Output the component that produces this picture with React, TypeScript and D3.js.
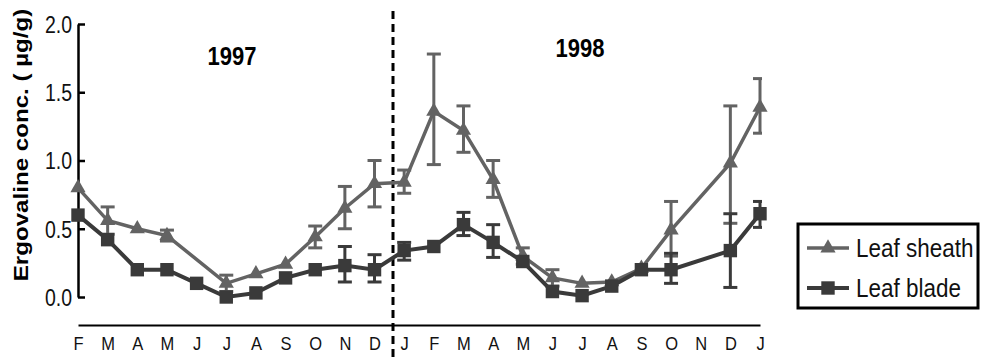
import React, { useRef, useEffect } from "react";
import * as d3 from "d3";

// months from Feb 1997 to Jan 1999
const months = ["F", "M", "A", "M", "J", "J", "A", "S", "O", "N", "D", "J", "F", "M", "A", "M", "J", "J", "A", "S", "O", "N", "D", "J"];

// leaf sheath (triangles), null = no sample
const sheath = [0.8, 0.56, 0.5, 0.45, null, 0.1, 0.17, 0.24, 0.44, 0.65, 0.83, 0.84, 1.36, 1.22, 0.86, 0.3, 0.14, 0.1, 0.11, 0.21, 0.49, null, 0.98, 1.39];
const sheathLo = [null, 0.46, null, 0.41, null, 0.04, null, null, 0.36, 0.5, 0.66, 0.76, 0.97, 1.06, 0.73, 0.24, 0.08, null, null, null, 0.3, null, 0.54, 1.2];
const sheathHi = [null, 0.66, null, 0.49, null, 0.16, null, null, 0.52, 0.81, 1.0, 0.93, 1.78, 1.4, 1.0, 0.36, 0.2, null, null, null, 0.7, null, 1.4, 1.6];

// leaf blade (squares)
const blade = [0.6, 0.42, 0.2, 0.2, 0.1, 0.0, 0.03, 0.14, 0.2, 0.23, 0.2, 0.34, 0.37, 0.53, 0.4, 0.26, 0.04, 0.01, 0.08, 0.2, 0.2, null, 0.34, 0.61];
const bladeLo = [null, null, null, null, null, null, null, null, null, 0.11, 0.11, 0.27, null, 0.45, 0.29, null, null, null, null, null, 0.1, null, 0.07, 0.51];
const bladeHi = [null, null, null, null, null, null, null, null, null, 0.37, 0.31, 0.4, null, 0.62, 0.53, null, null, null, null, null, 0.32, null, 0.61, 0.7];

const yTicks = [0, 0.5, 1.0, 1.5, 2.0];

const FONT = "'Liberation Sans', Arial, sans-serif";

export default function App() {
  const ref = useRef<SVGSVGElement>(null);

  useEffect(() => {
    const svg = d3.select(ref.current).html("");
    svg.style("font-family", FONT);

    const x = d3.scalePoint<number>().domain(d3.range(months.length)).range([78, 760]);
    const y = d3.scaleLinear().domain([0, 2]).range([297, 24]);

    // dashed separator between years
    svg.append("line")
      .attr("x1", 393).attr("x2", 393)
      .attr("y1", 11).attr("y2", 359)
      .attr("stroke", "#000").attr("stroke-width", 3)
      .attr("stroke-dasharray", "8,5");

    // y axis, ticks pointing inward
    const yAxis = svg.append("g")
      .attr("transform", "translate(78,0)")
      .call(d3.axisLeft(y).tickValues(yTicks).tickFormat(d3.format(".1f")).tickSize(-7).tickSizeOuter(0).tickPadding(6));
    yAxis.select(".domain").attr("stroke-width", 2.5);
    yAxis.selectAll(".tick line").attr("stroke-width", 2.5);
    yAxis.selectAll("text")
      .attr("font-size", 19.5).attr("font-family", FONT).attr("fill", "#111")
      .attr("dy", "0.36em").attr("transform", "scale(1,1.18)");

    // x axis (no ticks)
    const xAxis = svg.append("g")
      .attr("transform", "translate(0,325)")
      .call(d3.axisBottom(x).tickFormat((d) => months[d as number]).tickSize(0).tickSizeOuter(0));
    xAxis.select(".domain").attr("stroke-width", 2);
    xAxis.selectAll("text")
      .attr("font-size", 16.5).attr("font-family", FONT).attr("fill", "#111")
      .attr("y", 0).attr("dy", 0)
      .attr("transform", "translate(0,25) scale(1,1.15)");

    // year titles
    svg.append("text").attr("text-anchor", "middle")
      .attr("transform", "translate(232,65) scale(1,1.16)")
      .attr("font-size", 22).attr("font-weight", "bold").text("1997");
    svg.append("text").attr("text-anchor", "middle")
      .attr("transform", "translate(580,57) scale(1,1.16)")
      .attr("font-size", 22).attr("font-weight", "bold").text("1998");

    // y label
    svg.append("text")
      .attr("transform", "translate(28,145) rotate(-90) scale(1.15,1)")
      .attr("text-anchor", "middle")
      .attr("font-size", 21).attr("font-weight", "bold")
      .text("Ergovaline conc. ( µg/g)");

    // clip for error bars at right end
    svg.append("clipPath").attr("id", "errclip")
      .append("rect").attr("x", 0).attr("y", 0).attr("width", 762).attr("height", 359);

    const series = [
      { name: "Leaf sheath", vals: sheath, lo: sheathLo, hi: sheathHi, color: "#636363", sym: d3.symbolTriangle, size: 100, lw: 3.5 },
      { name: "Leaf blade", vals: blade, lo: bladeLo, hi: bladeHi, color: "#3a3a3a", sym: d3.symbolSquare, size: 180, lw: 4 },
    ];

    const drawSeries = (s: typeof series[0]) => {
      const pts = s.vals.map((v, i) => ({ i, v })).filter((p) => p.v !== null) as { i: number; v: number }[];
      const g = svg.append("g");

      // error bars
      const eb = g.append("g").attr("clip-path", "url(#errclip)");
      s.vals.forEach((v, i) => {
        if (s.lo[i] == null || s.hi[i] == null) return;
        const cx = x(i)!;
        eb.append("line").attr("x1", cx).attr("x2", cx)
          .attr("y1", y(s.lo[i] as number)).attr("y2", y(s.hi[i] as number))
          .attr("stroke", s.color).attr("stroke-width", 3);
        [s.lo[i], s.hi[i]].forEach((e) => {
          eb.append("line").attr("x1", cx - 7).attr("x2", cx + 7)
            .attr("y1", y(e as number)).attr("y2", y(e as number))
            .attr("stroke", s.color).attr("stroke-width", 3);
        });
      });

      const line = d3.line<{ i: number; v: number }>().x((d) => x(d.i)!).y((d) => y(d.v));
      g.append("path").datum(pts).attr("fill", "none")
        .attr("stroke", s.color).attr("stroke-width", s.lw).attr("d", line);

      g.selectAll(".mark").data(pts).enter().append("path")
        .attr("transform", (d) => `translate(${x(d.i)},${y(d.v)})`)
        .attr("d", d3.symbol().type(s.sym).size(s.size)())
        .attr("fill", s.color);
    };

    series.forEach((s) => drawSeries(s));

    // legend
    const lg = svg.append("g");
    lg.append("rect").attr("x", 798).attr("y", 224).attr("width", 180).attr("height", 84)
      .attr("fill", "#fff").attr("stroke", "#000").attr("stroke-width", 3);
    series.forEach((s, k) => {
      const ly = 248 + k * 40;
      lg.append("line").attr("x1", 807).attr("x2", 849).attr("y1", ly).attr("y2", ly)
        .attr("stroke", s.color).attr("stroke-width", s.lw);
      lg.append("path").attr("transform", `translate(828,${ly})`)
        .attr("d", d3.symbol().type(s.sym).size(s.size)()).attr("fill", s.color);
      lg.append("text").attr("transform", `translate(856,${ly + 9}) scale(1,1.12)`)
        .attr("font-size", 22.5).attr("fill", "#111").text(s.name);
    });
  }, []);

  return (
    <svg ref={ref} width={983} height={359}
      style={{ position: "absolute", left: 0, top: 0, background: "#fff" }} />
  );
}
